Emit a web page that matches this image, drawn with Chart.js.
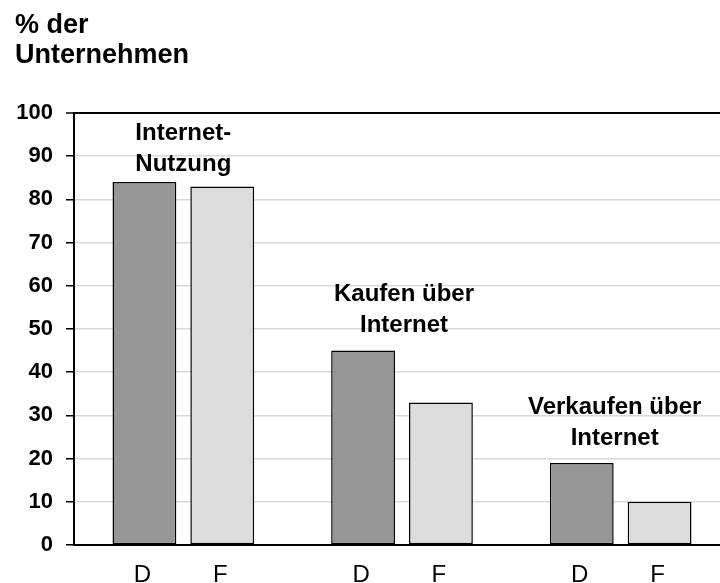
<!DOCTYPE html>
<html>
<head>
<meta charset="utf-8">
<script src="https://cdn.jsdelivr.net/npm/chart.js@4"></script>
<style>
  html, body { margin: 0; padding: 0; background: #fff; overflow: hidden; }
  /* the plot runs a little past the right edge, like in the original */
  #wrap { position: absolute; left: 0; top: 0; width: 730px; height: 583px; }
</style>
</head>
<body>
<div id="wrap"><canvas id="chart"></canvas></div>
<script>
// --- DATI ---
const categories = [['Internet-', 'Nutzung'], ['Kaufen über', 'Internet'], ['Verkaufen über', 'Internet']];
const seriesNames = ['D', 'F'];
const valuesD = [84, 45, 19];
const valuesF = [83, 33, 10];
const titleLines = ['% der', 'Unternehmen'];

const FONT = '"Liberation Sans", Arial, sans-serif';

// etichette dei gruppi sopra le barre + D/F sotto ogni barra
const labelLift = [11, 19, 18];   // px tra cima barra e ultima riga
const labelShift = [0, 2, -6];    // piccolo spostamento orizzontale
const groupLabels = {
    id: 'groupLabels',
    afterDatasetsDraw(chart) {
        const ctx = chart.ctx;
        const xs = chart.scales.x, ys = chart.scales.y;
        ctx.save();
        ctx.fillStyle = '#000';
        ctx.textAlign = 'center';
        ctx.textBaseline = 'alphabetic';

        ctx.font = 'bold 24px ' + FONT;
        categories.forEach((lines, i) => {
            const top = ys.getPixelForValue(Math.max(valuesD[i], valuesF[i]));
            const cx = xs.getPixelForValue(i) + labelShift[i];
            const base = top - labelLift[i];
            lines.forEach((t, k) => ctx.fillText(t, cx, base - (lines.length - 1 - k) * 31));
        });

        ctx.font = '24px ' + FONT;
        chart.data.datasets.forEach((ds, di) => {
            chart.getDatasetMeta(di).data.forEach(bar => {
                ctx.fillText(ds.label, bar.x - 2, chart.height - 1);
            });
        });
        ctx.restore();
    }
};

new Chart(document.getElementById('chart'), {
    type: 'bar',
    data: {
        labels: categories,
        datasets: [
            { label: seriesNames[0], data: valuesD, backgroundColor: '#969696' },
            { label: seriesNames[1], data: valuesF, backgroundColor: '#dcdcdc' }
        ].map(d => Object.assign(d, {
            borderColor: '#000',
            borderWidth: 1.5,
            borderSkipped: false,
            categoryPercentage: 0.712,
            barPercentage: 0.82
        }))
    },
    options: {
        responsive: true,
        maintainAspectRatio: false,
        animation: false,
        layout: { padding: { left: 15, right: 0, top: 0, bottom: 38 } },
        scales: {
            x: {
                ticks: { display: false },
                grid: { display: false },
                border: { color: '#000', width: 2 },
                afterFit: s => { s.height = 0; }
            },
            y: {
                min: 0,
                max: 100,
                ticks: { stepSize: 10, color: '#000', padding: 13, font: { family: FONT, size: 22, weight: 'bold' } },
                grid: {
                    color: c => (c.tick && (c.tick.value === 0 || c.tick.value === 100)) ? '#000' : '#d9d9d9',
                    lineWidth: c => (c.tick && c.tick.value === 100) ? 2 : 1.5,
                    tickColor: '#000',
                    tickLength: 8,
                    tickWidth: 1.5
                },
                border: { color: '#000', width: 2 },
                afterFit: s => { s.width = 59; }
            }
        },
        plugins: {
            legend: { display: false },
            tooltip: { enabled: false },
            title: {
                display: true,
                text: titleLines,
                align: 'start',
                color: '#000',
                font: { family: FONT, size: 27, weight: 'bold', lineHeight: 1.11 },
                padding: { top: 11, bottom: 42 }
            }
        }
    },
    plugins: [groupLabels]
});
</script>
</body>
</html>
